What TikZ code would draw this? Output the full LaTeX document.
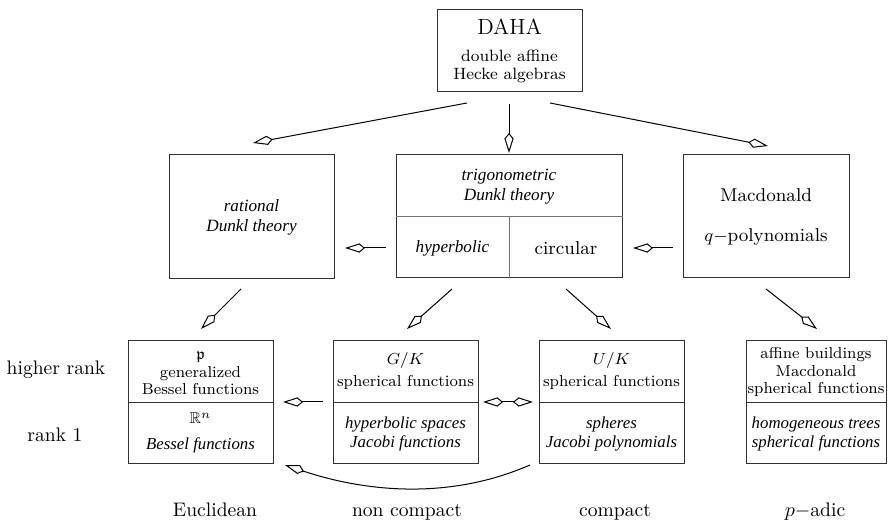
\documentclass[tikz,border=0pt]{standalone}
\usepackage{amssymb}
\usepackage{fontspec}
\newfontfamily\tms{Liberation Serif}
\usetikzlibrary{arrows.meta}
\begin{document}
\begin{tikzpicture}[x=0.5pt,y=-0.5pt,
  box/.style 2 args={draw=black!80, line width=0.5pt, inner sep=0pt,
    minimum width=#1*0.5pt, minimum height=#2*0.5pt},
  divline/.style={draw=black!80, line width=0.5pt},
  grayline/.style={draw=black!55, line width=0.5pt},
  btxt/.style={font=\fontsize{7.9}{8.7}\selectfont, align=center, inner sep=0pt},
  bit/.style={font=\tms\itshape\fontsize{8.4}{9.5}\selectfont, align=center, inner sep=0pt},
  mtxt/.style={font=\fontsize{9.3}{11}\selectfont, align=center, inner sep=0pt},
  mit/.style={font=\tms\itshape\fontsize{8.6}{10}\selectfont, align=center, inner sep=0pt},
  lbl/.style={font=\fontsize{9.8}{12}\selectfont, inner sep=0pt},
  kite/.tip={Kite[open, length=10pt, width=4.6pt, inset=2.8pt, line width=0.5pt]},
  arr/.style={line width=0.5pt, -kite},
  darr/.style={line width=0.5pt, kite-kite}
]
\useasboundingbox (0,0) rectangle (888,522);

% top box
\node[box={145}{82}, align=center, font=\fontsize{8.2}{9.2}\selectfont] (daha) at (509.5,51)
  {{\fontsize{11}{13}\selectfont DAHA}\\[4pt]double affine\\Hecke algebras};

% middle row
\node[box={165}{124}, mit] (rat) at (251.5,217) {rational\\Dunkl theory};
\node[box={226}{123}] (trig) at (509,216.5) {};
\coordinate (trigmid) at (509,217);
\draw[grayline] (trig.west |- trigmid) -- (trig.east |- trigmid);
\draw[grayline] (trigmid) -- (trig.south);
\node[mit] (trigtop) at (509,187) {trigonometric\\Dunkl theory};
\node[mit] (hyp) at (452.5,248) {hyperbolic};
\node[mtxt] (circ) at (566,248) {circular};
\node[box={166}{123}, mtxt] (macd) at (766,216.5) {Macdonald\\[9pt]$q-$polynomials};

% bottom row
\node[box={145}{123}] (eu) at (200.5,402.5) {};
\draw[divline] (eu.west) -- (eu.east);
\node[btxt] (eut) at (200.5,373) {$\mathfrak{p}$\\generalized\\Bessel functions};
\node[btxt] (eub) at (200.5,433) {$\mathbb{R}^n$\\[4pt]{\tms\itshape\fontsize{8.4}{9.5}\selectfont Bessel functions}};

\node[box={145}{123}] (gk) at (405.5,402.5) {};
\draw[divline] (gk.west) -- (gk.east);
\node[btxt] (gkt) at (405.5,371) {$G\mathbf{/}K$\\[2.5pt]spherical functions};
\node[bit] (gkb) at (405.5,433.5) {hyperbolic spaces\\Jacobi functions};

\node[box={145}{123}] (uk) at (611.5,402.5) {};
\draw[divline] (uk.west) -- (uk.east);
\node[btxt] (ukt) at (611.5,371) {$U\mathbf{/}K$\\[2.5pt]spherical functions};
\node[bit] (ukb) at (611.5,433.5) {spheres\\Jacobi polynomials};

\node[box={140}{123}] (pa) at (816,402.5) {};
\draw[divline] (pa.west) -- (pa.east);
\node[btxt] (pat) at (816,372) {affine buildings\\Macdonald\\spherical functions};
\node[bit] (pab) at (816,433.5) {homogeneous trees\\spherical functions};

% side labels
\node[lbl] (hr) at (56,370) {higher rank};
\node[lbl] (r1) at (55,435) {rank 1};
\node[lbl] (euc) at (215,510) {Euclidean};
\node[lbl] (nc) at (407,512) {non compact};
\node[lbl] (cp) at (615,512) {compact};
\node[lbl] (pad) at (815,512) {$p-$adic};

% connector endpoints
\coordinate (c1s) at (467,103); \coordinate (c1e) at (253,143);
\coordinate (c2s) at (509,104); \coordinate (c2e) at (509,153);
\coordinate (c3s) at (550,103); \coordinate (c3e) at (768,146);
\coordinate (c4s) at (386,248); \coordinate (c4e) at (345,248);
\coordinate (c5s) at (673,248); \coordinate (c5e) at (633,248);
\coordinate (c6s) at (241,289); \coordinate (c6e) at (201,329);
\coordinate (c7s) at (452,289); \coordinate (c7e) at (407,329);
\coordinate (c8s) at (566,289); \coordinate (c8e) at (611,329);
\coordinate (c9s) at (766,289); \coordinate (c9e) at (817,329);
\coordinate (c10s) at (323,402); \coordinate (c10e) at (283,402);
\coordinate (c11s) at (483,402); \coordinate (c11e) at (533,402);
\coordinate (c12s) at (530,465); \coordinate (c12e) at (285,465);

\draw[arr] (c1s) -- (c1e);
\draw[arr] (c2s) -- (c2e);
\draw[arr] (c3s) -- (c3e);
\draw[arr] (c4s) -- (c4e);
\draw[arr] (c5s) -- (c5e);
\draw[arr] (c6s) -- (c6e);
\draw[arr] (c7s) -- (c7e);
\draw[arr] (c8s) -- (c8e);
\draw[arr] (c9s) -- (c9e);
\draw[arr] (c10s) -- (c10e);
\draw[darr] (c11s) -- (c11e);
\draw[arr] (c12s) .. controls (445,502) and (360,490) .. (c12e);
\end{tikzpicture}
\end{document}
